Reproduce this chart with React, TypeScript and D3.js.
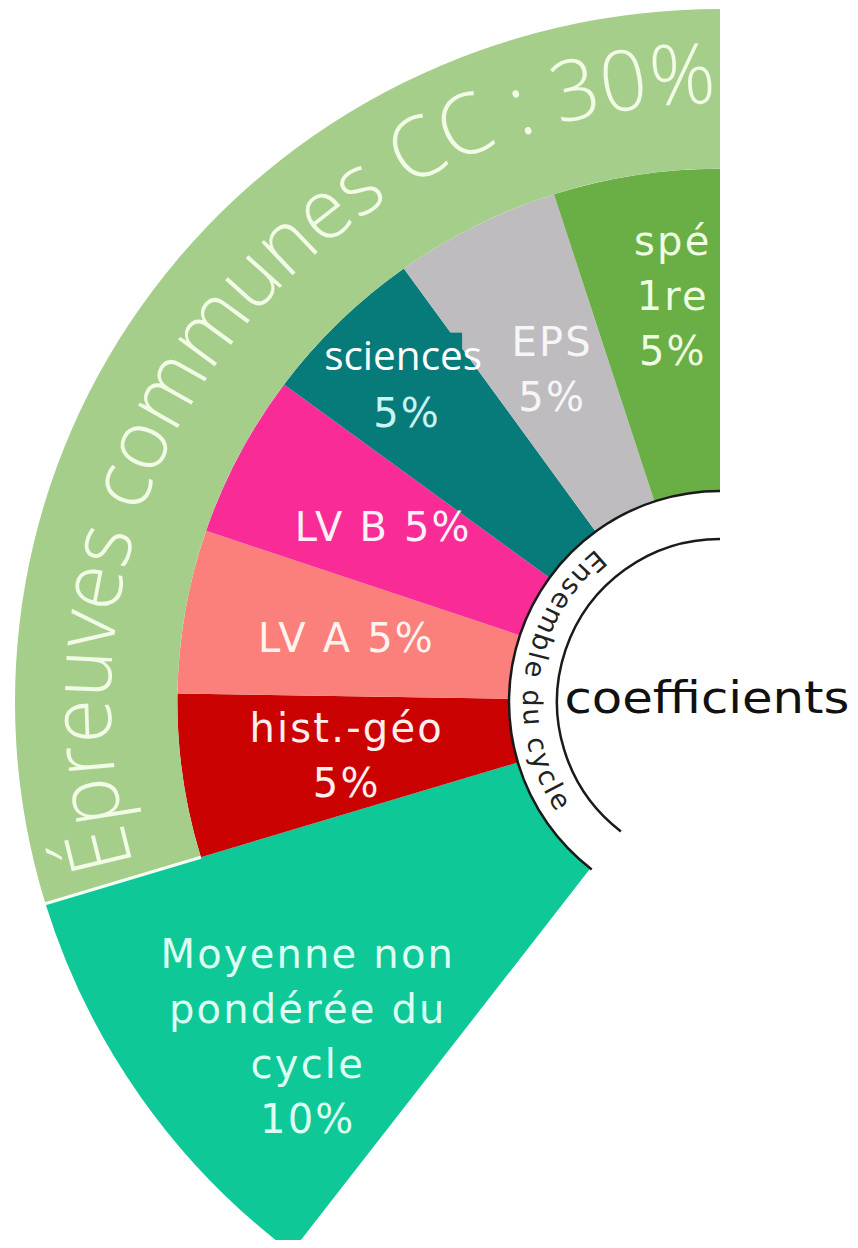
import React from 'react'
import * as d3 from 'd3'

const width = 858
const height = 1248
const cx = 720
const cy = 702

// slices, clockwise from the bottom
const subjects = ['moyenne', 'histgeo', 'lva', 'lvb', 'sciences', 'eps', 'spe']
const weights = [10, 5, 5, 5, 5, 5, 5]
const colors = ['#0fc897', '#cb0202', '#fb7f7b', '#f82b97', '#077b7a', '#bebcbf', '#6aae46']
const labelLines = [
    ['Moyenne non', 'pondérée du', 'cycle', '10%'],
    ['hist.-géo', '5%'],
    ['LV A 5%'],
    ['LV B 5%'],
    ['sciences', '5%'],
    ['EPS', '5%'],
    ['spé', '1re', '5%'],
]
const labelColors = ['#dcfff2', '#ffeeee', '#fff3ee', '#fff0f8', '#c8f4f4', '#f6f6f6', '#effde0']

// outer group ring
const groupTitle = 'Épreuves communes CC : 30%'
const groupWeight = 30
const groupColor = '#a5ce8a'

const ringTitle = 'Ensemble du cycle'
const centerTitle = 'coefficients'

// radii
const innerR = 205
const midR = 538
const outerR = 699
const ringIn = 163
const ringOut = 211

// label placement (radius, small turn in degrees)
const labelRadius = [530, 377, 379, 380, 446, 373, 410]
const labelTurn = [-4.2, 0, 0, 0, 0, 0, 2.3]
const lineHeight = 55

const deg = (d: number) => (d * Math.PI) / 180

const arcLine = (r: number, a0: number, a1: number) => {
    const p = d3.path()
    const [x0, y0] = d3.pointRadial(a0, r)
    p.moveTo(x0, y0)
    p.arc(0, 0, r, a0 - Math.PI / 2, a1 - Math.PI / 2, a1 < a0)
    return p.toString()
}

export default function App() {
    const angle = d3.scaleLinear().domain([0, 100]).range([0, 2 * Math.PI * 0.99])
    const total = d3.sum(weights)

    const pie = d3
        .pie<number>()
        .sort(null)
        .value((d) => d)
        .startAngle(-angle(total))
        .endAngle(0)
    const slices = pie(weights)

    const arc = d3.arc<any>()
    const sliceD = slices.map((s, i) =>
        arc({
            startAngle: s.startAngle,
            endAngle: s.endAngle,
            innerRadius: innerR,
            outerRadius: i === 0 ? outerR : midR,
        })
    )

    const bandStart = -angle(groupWeight)
    const bandD = arc({ startAngle: bandStart, endAngle: 0, innerRadius: midR, outerRadius: outerR })
    const [sx0, sy0] = d3.pointRadial(bandStart, midR)
    const [sx1, sy1] = d3.pointRadial(bandStart, outerR + 2)

    const bandTextR = 604
    const bandPath = arcLine(bandTextR, bandStart, 0)

    const ringD = arc({ startAngle: -angle(total), endAngle: 0, innerRadius: ringIn, outerRadius: ringOut })
    const ringTextPath = arcLine(197, deg(-39), -angle(total))

    return (
        <svg width={width} height={height} style={{ display: 'block', margin: '-8px' }}>
            <defs>
                <path id="bandPath" d={bandPath} />
                <path id="ringPath" d={ringTextPath} />
            </defs>
            <rect width={width} height={height} fill="#fff" />
            <g transform={`translate(${cx},${cy}) scale(1.0086,0.9914)`}>
                {slices.map((s, i) => (
                    <path key={subjects[i]} d={sliceD[i] || ''} fill={colors[i]} />
                ))}
                <path d={bandD || ''} fill={groupColor} />
                <line x1={sx0} y1={sy0} x2={sx1} y2={sy1} stroke="#f4fff4" strokeWidth={3} />
                <text
                    fontFamily="'Open Sans', 'DejaVu Sans', sans-serif"
                    fontWeight={300}
                    fontSize={85}
                    fill="#f1fbe6"
                >
                    <textPath href="#bandPath" startOffset={12} textLength={1112} lengthAdjust="spacingAndGlyphs">
                        {groupTitle}
                    </textPath>
                </text>
            </g>
            <g transform={`translate(${cx},${cy})`}>
                <path d={ringD || ''} fill="#fff" />
                <path d={arcLine(ringOut, -angle(total), 0)} fill="none" stroke="#1a1a1a" strokeWidth={2.5} />
                <path d={arcLine(ringIn, -angle(total), 0)} fill="none" stroke="#1a1a1a" strokeWidth={2.5} />
                <text fontFamily="'DejaVu Sans', sans-serif" fontSize={27} fill="#222">
                    <textPath href="#ringPath" textLength={292} lengthAdjust="spacing">
                        {ringTitle}
                    </textPath>
                </text>

                {slices.map((s, i) => {
                    const mid = (s.startAngle + s.endAngle) / 2 + deg(labelTurn[i])
                    const [lx, ly] = d3.pointRadial(mid, labelRadius[i])
                    const lines = labelLines[i]
                    const n = lines.length
                    return (
                        <g key={'lab' + subjects[i]}>
                            {lines.map((t, j) => {
                                const y = ly + (j - (n - 1) / 2) * lineHeight + 15
                                const isSci = subjects[i] === 'sciences' && j === 0
                                if (isSci) {
                                    return (
                                        <g key={t}>
                                            <rect x={lx - 58} y={y - 39} width={113} height={44} fill={colors[i]} />
                                            <text
                                                x={lx - 4}
                                                y={y - 2}
                                                textAnchor="middle"
                                                fontFamily="'Open Sans', sans-serif"
                                                fontSize={40}
                                                fill="#ffffff"
                                                textLength={158}
                                                lengthAdjust="spacingAndGlyphs"
                                            >
                                                {t}
                                            </text>
                                        </g>
                                    )
                                }
                                return (
                                    <text
                                        key={t}
                                        x={lx}
                                        y={y}
                                        textAnchor="middle"
                                        fontFamily="'DejaVu Sans', sans-serif"
                                        fontSize={40}
                                        letterSpacing={2.2}
                                        fill={labelColors[i]}
                                    >
                                        {t}
                                    </text>
                                )
                            })}
                        </g>
                    )
                })}

                <text
                    x={-13}
                    y={11}
                    textAnchor="middle"
                    fontFamily="'DejaVu Sans', sans-serif"
                    fontSize={44}
                    fill="#111"
                    textLength={285}
                    lengthAdjust="spacingAndGlyphs"
                >
                    {centerTitle}
                </text>
            </g>
        </svg>
    )
}
